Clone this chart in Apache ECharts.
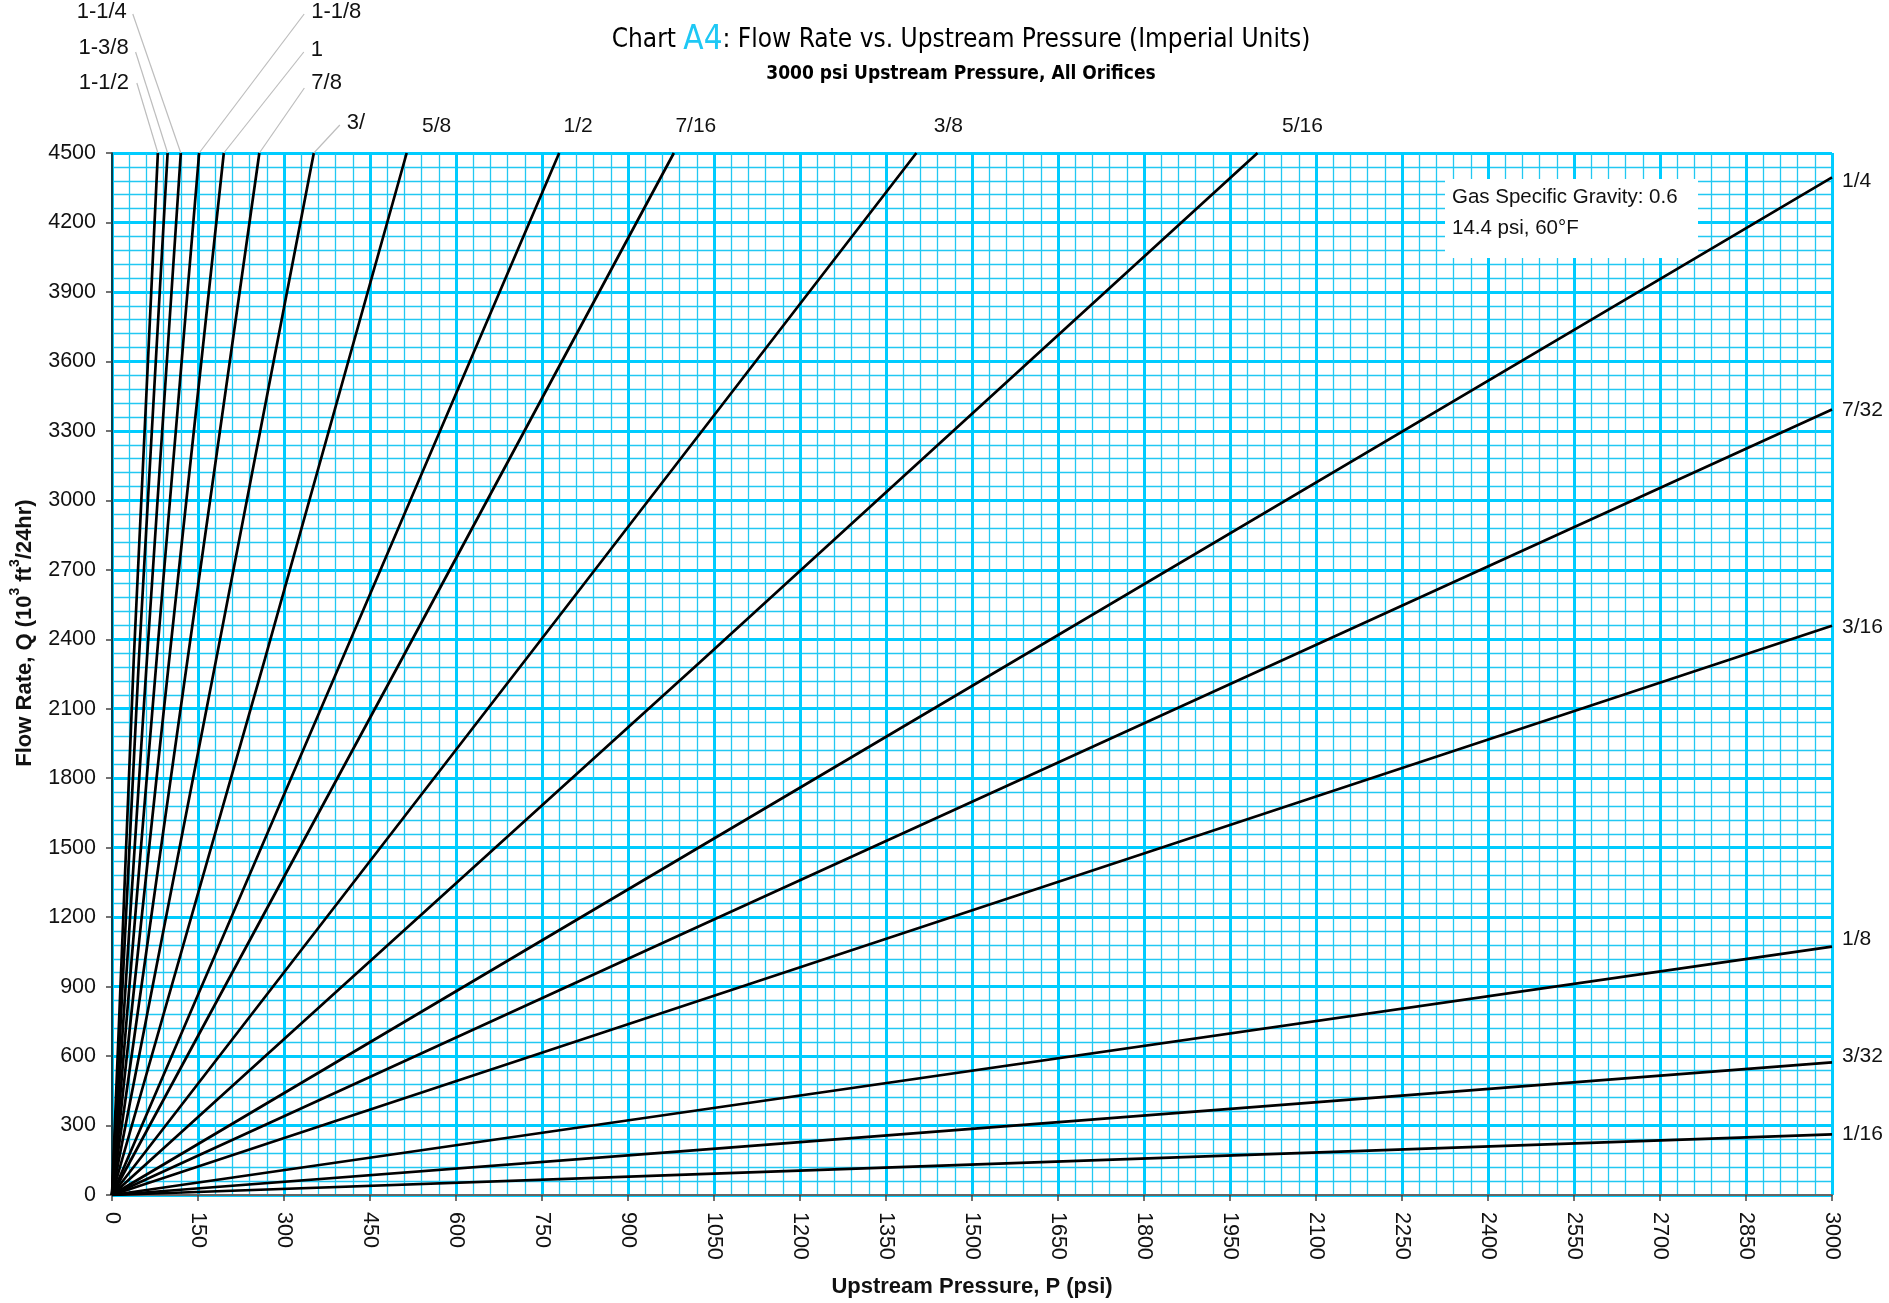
<!DOCTYPE html>
<html><head><meta charset="utf-8">
<script src="https://cdn.jsdelivr.net/npm/echarts@6/dist/echarts.min.js"></script>
<style>html,body{margin:0;padding:0;background:#fff}#c{width:1889px;height:1303px}</style>
</head><body><div id="c"></div>
<script>
// ---- data ----
const orifices = ['1-1/2','1-3/8','1-1/4','1-1/8','1','7/8','3/4','5/8','1/2','7/16','3/8','5/16','1/4','7/32','3/16','1/8','3/32','1/16'];
const labelTexts = ['1-1/2','1-3/8','1-1/4','1-1/8','1','7/8','3/','5/8','1/2','7/16','3/8','5/16','1/4','7/32','3/16','1/8','3/32','1/16'];
const midP = [38, 47, 61, 78, 100, 132, 182, 267, 402, 506, 723, 1025, 1025, 1025, 1025, 1025, 1025, 1025];
const midQ = [2317, 2317, 2317, 2317, 2317, 2317, 2317, 2317, 2317, 2317, 2317, 2300, 1503, 1162, 840, 367, 195, 90];
const endP = [80, 97, 120, 152, 195, 257, 352, 514, 780, 980, 1403, 1998, 3000, 3000, 3000, 3000, 3000, 3000];
const endQ = [4500, 4500, 4500, 4500, 4500, 4500, 4500, 4500, 4500, 4500, 4500, 4500, 4395, 3392, 2458, 1073, 573, 262];
const xTicks = {min: 0, max: 3000, step: 150};
const yTicks = {min: 0, max: 4500, step: 300};
const titleMain = 'Chart ';
const titleCode = 'A4';
const titleRest = ': Flow Rate vs. Upstream Pressure (Imperial Units)';
const subTitle = '3000 psi Upstream Pressure, All Orifices';
const xName = 'Upstream Pressure, P (psi)';
const yNameParts = ['Flow Rate, Q (10', '3', ' ft', '3', '/24hr)'];
const noteLines = ['Gas Specific Gravity: 0.6', '14.4 psi, 60°F'];

// ---- label placement (pixel offsets from each curve's end) ----
const labelPlace = [
  {dx:-29, dy:-70, align:'right', lead:[-21,-70]},
  {dx:-39, dy:-105, align:'right', lead:[-32,-101]},
  {dx:-54, dy:-141, align:'right', lead:[-48,-139]},
  {dx:112, dy:-141, align:'left', lead:[105,-139]},
  {dx:87, dy:-103, align:'left', lead:[80,-101]},
  {dx:52, dy:-70, align:'left', lead:[45,-65]},
  {dx:33, dy:-30, align:'left', lead:[26,-28]},
  {dx:30, dy:-27, align:'center'},
  {dx:19, dy:-27, align:'center'},
  {dx:22, dy:-27, align:'center'},
  {dx:32, dy:-27, align:'center'},
  {dx:45, dy:-27, align:'center'},
  {dx:10, dy:4, align:'left'},
  {dx:10, dy:1, align:'left'},
  {dx:10, dy:1, align:'left'},
  {dx:10, dy:-7, align:'left'},
  {dx:10, dy:-6, align:'left'},
  {dx:10, dy:0, align:'left'}
];

const narrow = "'Liberation Sans Narrow','DejaVu Sans Condensed',sans-serif";
const sans = "'Liberation Sans',Arial,sans-serif";
const MAJOR = '#00ccff', MINOR = '#22c8f2';

const chart = echarts.init(document.getElementById('c'), null, {renderer: 'canvas'});

const series = orifices.map((name, i) => ({
  name: name, type: 'line', z: 10, symbol: 'none', smooth: false,
  lineStyle: {color: '#000', width: 2.7},
  data: [[0, 0], [midP[i], midQ[i]], [endP[i], endQ[i]]],
  silent: true, animation: false
}));

const option = {
  animation: false,
  title: {
    text: '{a|' + titleMain + '}{b|' + titleCode + '}{a|' + titleRest + '}',
    subtext: subTitle,
    left: 956, textAlign: 'center', top: 19, itemGap: 8,
    textStyle: {rich: {
      a: {fontSize: 26, fontFamily: narrow, color: '#000', fontWeight: 'normal'},
      b: {fontSize: 33, fontFamily: narrow, color: '#1ec8f5', fontWeight: 'normal'}
    }},
    subtextStyle: {fontSize: 19, fontFamily: narrow, color: '#000', fontWeight: 'bold'}
  },
  grid: {left: 112, right: 57, top: 153, bottom: 106, containLabel: false},
  xAxis: {
    type: 'value', min: xTicks.min, max: xTicks.max, interval: xTicks.step,
    name: xName, nameLocation: 'middle', nameGap: 81,
    nameTextStyle: {fontSize: 22, fontWeight: 'bold', fontFamily: sans, color: '#111'},
    axisLine: {show: true, lineStyle: {color: '#666', width: 2}},
    axisTick: {show: true, length: 6, lineStyle: {color: '#444', width: 1.5}},
    axisLabel: {rotate: -90, fontSize: 21.5, fontFamily: sans, color: '#111', margin: 17,
      formatter: v => String(v)},
    splitLine: {show: true, lineStyle: {color: MAJOR, width: 3}},
    minorTick: {show: false, splitNumber: 5},
    minorSplitLine: {show: true, lineStyle: {color: MINOR, width: 1.3}}
  },
  yAxis: {
    type: 'value', min: yTicks.min, max: yTicks.max, interval: yTicks.step,
    axisLine: {show: true, lineStyle: {color: '#111', width: 1.5}},
    axisTick: {show: true, length: 6, lineStyle: {color: '#444', width: 1.5}},
    axisLabel: {fontSize: 21.5, fontFamily: sans, color: '#111', margin: 16,
      formatter: v => String(v)},
    splitLine: {show: true, lineStyle: {color: MAJOR, width: 3}},
    minorTick: {show: false, splitNumber: 5},
    minorSplitLine: {show: true, lineStyle: {color: MINOR, width: 1.3}}
  },
  series: series
};
chart.setOption(option);

// labels, leaders, annotation box, y-axis title
const g = [];
orifices.forEach((name, i) => {
  const p = chart.convertToPixel({gridIndex: 0}, [endP[i], endQ[i]]);
  const pl = labelPlace[i];
  if (pl.lead) {
    g.push({type: 'line', z: 20, silent: true,
      shape: {x1: p[0] + pl.lead[0], y1: p[1] + pl.lead[1], x2: p[0], y2: p[1]},
      style: {stroke: '#bdbdbd', lineWidth: 1.2}});
  }
  g.push({type: 'text', z: 20, silent: true, x: p[0] + pl.dx, y: p[1] + pl.dy,
    style: {text: labelTexts[i], fill: '#111', font: (i < 7 ? '22px ' : '21px ') + sans,
      align: pl.align, verticalAlign: 'middle', textAlign: pl.align, textVerticalAlign: 'middle'}});
});
g.push({type: 'rect', z: 1, silent: true,
  shape: {x: 1445, y: 179, width: 253, height: 79},
  style: {fill: '#fff'}});
noteLines.forEach((t, k) => {
  g.push({type: 'text', z: 20, silent: true, x: 1452, y: 197 + k * 31,
    style: {text: t, fill: '#111', font: '20.5px ' + sans, align: 'left', verticalAlign: 'middle',
      textAlign: 'left', textVerticalAlign: 'middle'}});
});
g.push({type: 'text', z: 20, silent: true, x: 22, y: 633, rotation: Math.PI / 2,
  style: {
    text: '{n|' + yNameParts[0] + '}{s|' + yNameParts[1] + '}{n|' + yNameParts[2] + '}{s|' + yNameParts[3] + '}{n|' + yNameParts[4] + '}',
    align: 'center', verticalAlign: 'middle',
    rich: {
      n: {fontSize: 22, fontWeight: 'bold', fontFamily: sans, fill: '#111', color: '#111', lineHeight: 28, verticalAlign: 'bottom'},
      s: {fontSize: 14, fontWeight: 'bold', fontFamily: sans, fill: '#111', color: '#111', lineHeight: 28, verticalAlign: 'top'}
    }
  }});
chart.setOption({graphic: {elements: g}});
</script></body></html>
